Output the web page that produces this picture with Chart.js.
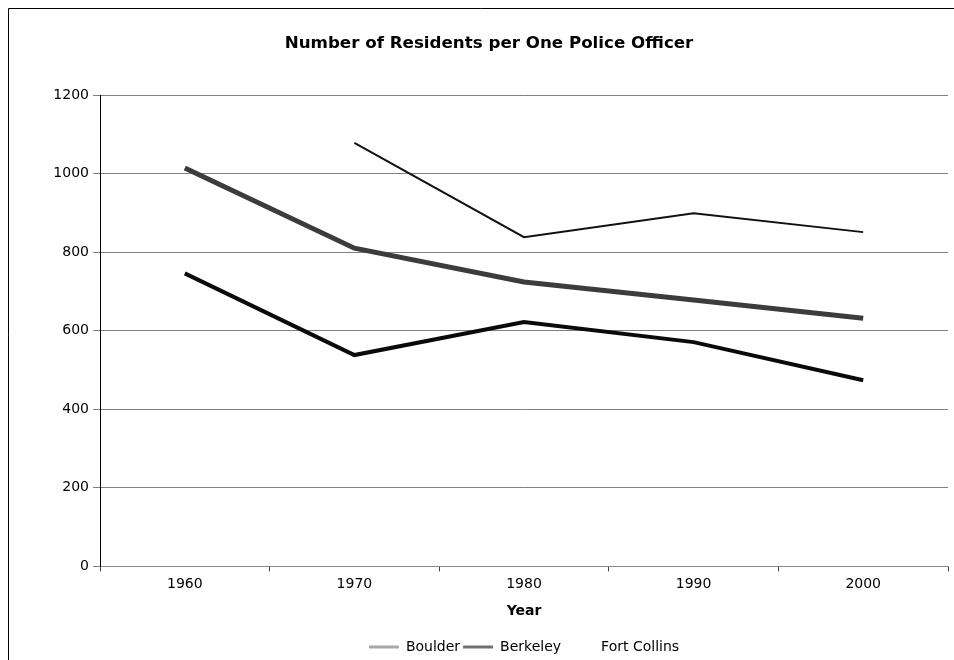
<!DOCTYPE html>
<html>
<head>
<meta charset="utf-8">
<script src="https://cdn.jsdelivr.net/npm/chart.js@4/dist/chart.umd.min.js"></script>
<style>
  html, body { margin: 0; padding: 0; background: #fff; }
  #wrap { position: relative; width: 954px; height: 660px; }
</style>
</head>
<body>
<div id="wrap"><canvas id="chart"></canvas></div>
<script>
const years = ['1960', '1970', '1980', '1990', '2000'];
const boulder = [1014, 810, 724, 678, 632];
const berkeley = [746, 538, 622, 571, 474];
const fortCollins = [null, 1078, 838, 899, 851];
const yTicks = [0, 200, 400, 600, 800, 1000, 1200];

const font = 'DejaVu Sans, Verdana, sans-serif';
const legendSwatch = ['#a8a8a8', '#707070', 'rgba(0,0,0,0)'];

// frame around the whole chart, like the printed page
const framePlugin = {
    id: 'frame',
    beforeDraw(chart) {
        const ctx = chart.ctx;
        ctx.save();
        ctx.strokeStyle = '#000';
        ctx.lineWidth = 1;
        ctx.beginPath();
        ctx.moveTo(8.5, 660);
        ctx.lineTo(8.5, 8.5);
        ctx.lineTo(954, 8.5);
        ctx.stroke();
        ctx.restore();
    }
};

// title and legend sit a little off the page centre in the original
const nudgePlugin = {
    id: 'nudge',
    afterLayout(chart) {
        chart.titleBlock.left += 11;
        chart.titleBlock.right += 11;
        chart.legend.left += 46;
        chart.legend.right += 46;
        chart.legend.top += 4;
        chart.legend.bottom += 4;
    }
};

new Chart(document.getElementById('chart'), {
    type: 'line',
    data: {
        labels: years,
        datasets: [
            { label: 'Boulder', data: boulder, borderColor: '#3c3c3c', borderWidth: 5 },
            { label: 'Berkeley', data: berkeley, borderColor: '#0a0a0a', borderWidth: 4 },
            { label: 'Fort Collins', data: fortCollins, borderColor: '#111', borderWidth: 2 }
        ]
    },
    options: {
        responsive: true,
        maintainAspectRatio: false,
        animation: false,
        elements: { point: { radius: 0 }, line: { tension: 0 } },
        layout: { padding: { left: 8, right: 6, top: 0, bottom: 0 } },
        plugins: {
            title: {
                display: true,
                text: 'Number of Residents per One Police Officer',
                color: '#000',
                font: { family: font, size: 16.7, weight: 'bold' },
                padding: { top: 34, bottom: 41 }
            },
            legend: {
                position: 'bottom',
                labels: {
                    color: '#000',
                    font: { family: font, size: 14 },
                    boxWidth: 30,
                    boxHeight: 3,
                    padding: 3,
                    generateLabels(chart) {
                        return chart.data.datasets.map((ds, i) => ({
                            text: ds.label,
                            fillStyle: legendSwatch[i],
                            strokeStyle: legendSwatch[i],
                            lineWidth: 0,
                            fontColor: '#000',
                            datasetIndex: i
                        }));
                    }
                }
            },
            tooltip: { enabled: false }
        },
        scales: {
            x: {
                offset: true,
                grid: { drawOnChartArea: false, drawTicks: true, tickLength: 5, color: '#444', offset: true },
                border: { color: '#888', width: 1 },
                ticks: { color: '#000', font: { family: font, size: 14 }, padding: 5 },
                title: { display: true, text: 'Year', color: '#000', font: { family: font, size: 14, weight: 'bold' }, padding: { top: 5, bottom: 13 } }
            },
            y: {
                min: 0,
                max: 1200,
                afterBuildTicks(scale) { scale.ticks = yTicks.map(v => ({ value: v })); },
                afterFit(scale) { scale.width = 92; },
                grid: { color: '#808080', lineWidth: 1, tickLength: 7 },
                border: { color: '#000', width: 1 },
                ticks: { color: '#000', font: { family: font, size: 14 }, padding: 4, callback: v => String(v) }
            }
        }
    },
    plugins: [framePlugin, nudgePlugin]
});
</script>
</body>
</html>
